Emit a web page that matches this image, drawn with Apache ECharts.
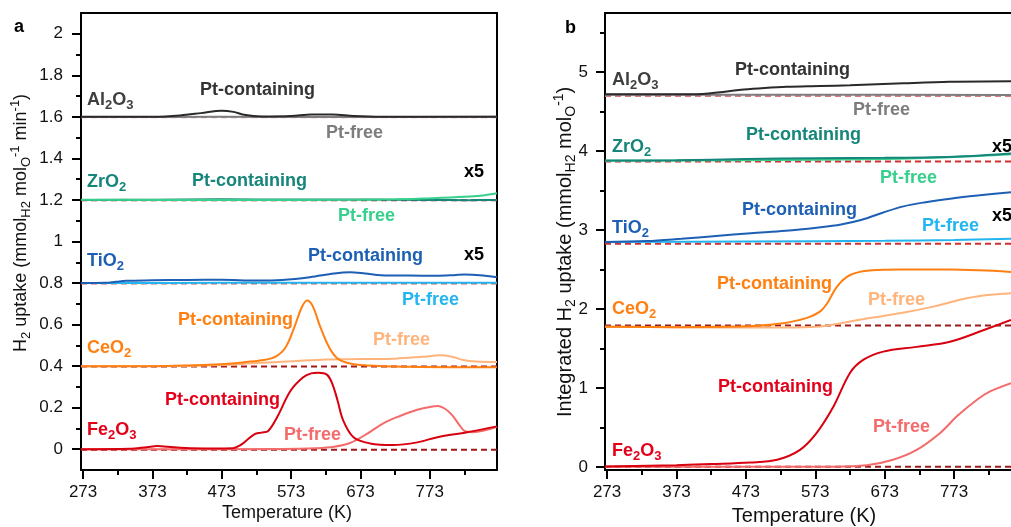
<!DOCTYPE html>
<html>
<head>
<meta charset="utf-8">
<script src="https://cdn.jsdelivr.net/npm/echarts@6/dist/echarts.min.js"></script>
<style>
html,body{margin:0;padding:0;background:#fff;}
#c{width:1011px;height:527px;}
</style>
</head>
<body>
<div id="c"></div>
<script>
// ---------- tick labels ----------
const xTicks = [273, 373, 473, 573, 673, 773];
const xMinorTicks = [323, 423, 523, 623, 723, 823];
const yTicksA = [0, 0.2, 0.4, 0.6, 0.8, 1, 1.2, 1.4, 1.6, 1.8, 2];
const yMinorA = [0.1, 0.3, 0.5, 0.7, 0.9, 1.1, 1.3, 1.5, 1.7, 1.9];
const yTicksB = [0, 1, 2, 3, 4, 5];
const yMinorB = [0.5, 1.5, 2.5, 3.5, 4.5, 5.5];

// ---------- panel a: H2 uptake ([T (K), value]) ----------
const aAlPt = [[270,1.6],[373,1.601],[413,1.607],[443,1.618],[473,1.63],[490,1.624],[505,1.61],[530,1.602],[573,1.604],[603,1.611],[633,1.611],[663,1.604],[703,1.6],[870,1.6]];
const aAlFree = [[270,1.599],[470,1.6],[670,1.599],[870,1.6]];
const aZrPt = [[270,1.2],[373,1.201],[473,1.203],[573,1.202],[673,1.202],[773,1.2],[830,1.199],[870,1.2]];
const aZrFree = [[270,1.201],[473,1.2],[673,1.201],[723,1.203],[773,1.208],[823,1.215],[850,1.222],[870,1.232]];
const aTiPt = [[270,0.8],[305,0.801],[320,0.806],[335,0.811],[373,0.813],[423,0.815],[473,0.816],[523,0.812],[560,0.815],[600,0.828],[635,0.846],[658,0.852],[680,0.846],[703,0.838],[743,0.836],[783,0.835],[808,0.838],[823,0.841],[845,0.838],[870,0.828]];
const aTiFree = [[270,0.8],[470,0.801],[670,0.801],[870,0.801]];
const aCePt = [[270,0.4],[373,0.4],[423,0.403],[463,0.408],[503,0.418],[530,0.428],[550,0.445],[565,0.49],[578,0.59],[588,0.68],[596,0.716],[604,0.69],[615,0.59],[628,0.49],[640,0.437],[655,0.415],[673,0.405],[720,0.398],[800,0.395],[870,0.395]];
const aCeFree = [[270,0.4],[423,0.401],[473,0.405],[523,0.415],[573,0.423],[623,0.432],[673,0.434],[723,0.436],[763,0.445],[788,0.452],[805,0.445],[821,0.43],[840,0.422],[870,0.42]];
const aFePt = [[270,0],[340,0.002],[365,0.01],[380,0.015],[395,0.012],[420,0.006],[460,0.004],[489,0.005],[500,0.02],[509,0.043],[520,0.072],[530,0.08],[540,0.088],[553,0.155],[572,0.28],[590,0.345],[602,0.365],[612,0.368],[625,0.358],[633,0.31],[640,0.235],[648,0.14],[663,0.058],[687,0.028],[720,0.02],[755,0.033],[784,0.058],[827,0.082],[870,0.11]];
const aFeFree = [[270,0],[560,0.001],[610,0.005],[635,0.012],[658,0.03],[683,0.075],[706,0.125],[730,0.16],[755,0.19],[775,0.205],[785,0.208],[795,0.195],[805,0.165],[815,0.12],[823,0.088],[835,0.082],[870,0.108]];
const aBaselines = [1.598, 1.198, 0.798, 0.398, -0.002];

// ---------- panel b: integrated H2 uptake ----------
const bAlPt = [[270,4.72],[373,4.72],[410,4.725],[440,4.75],[470,4.78],[500,4.8],[532,4.815],[580,4.825],[623,4.835],[700,4.86],[767,4.878],[855,4.885]];
const bAlFree = [[270,4.715],[570,4.714],[855,4.712]];
const bZrPt = [[270,3.88],[373,3.885],[473,3.9],[573,3.91],[673,3.915],[773,3.93],[820,3.95],[855,3.97]];
const bZrFree = [[270,3.878],[473,3.885],[673,3.9],[773,3.925],[855,3.96]];
const bTiPt = [[270,2.85],[330,2.86],[380,2.89],[430,2.925],[480,2.96],[530,2.99],[575,3.03],[610,3.07],[640,3.13],[670,3.22],[700,3.3],[730,3.35],[770,3.4],[810,3.44],[855,3.48]];
const bTiFree = [[270,2.85],[473,2.855],[673,2.865],[773,2.875],[855,2.89]];
const bCePt = [[270,1.775],[373,1.77],[473,1.78],[527,1.82],[550,1.86],[565,1.9],[580,1.97],[590,2.07],[604,2.28],[619,2.41],[637,2.47],[665,2.495],[695,2.5],[767,2.5],[810,2.49],[855,2.47]];
const bCeFree = [[270,1.775],[373,1.77],[473,1.765],[530,1.765],[575,1.775],[610,1.82],[647,1.88],[695,1.945],[743,2.03],[791,2.135],[825,2.18],[855,2.2]];
const bFePt = [[270,0.005],[373,0.02],[423,0.035],[479,0.055],[518,0.09],[551,0.215],[575,0.43],[599,0.76],[623,1.19],[642,1.355],[671,1.46],[719,1.52],[767,1.585],[815,1.73],[855,1.86]];
const bFeFree = [[270,0],[600,0.002],[647,0.02],[685,0.09],[719,0.215],[753,0.43],[777,0.64],[806,0.85],[825,0.955],[855,1.06]];
const bBaselines = [4.70, 3.868, 2.828, 1.79, 0];

// ---------- colours ----------
const C = {
  alPt:'#2a2a2a', alFree:'#7d7d7d', alTxt:'#3f3f3f',
  zrPt:'#16857a', zrFree:'#36cf8b',
  tiPt:'#1c5fb4', tiFree:'#22b5ef',
  cePt:'#ff7f11', ceFree:'#ffb47c',
  fePt:'#d8000f', feTxt:'#e5001a', feFree:'#f46b6b'
};
const baseColA = ['#e89a9a','#b01c1c','#d65a5a','#a01818','#a01818'];
const baseColB = ['#e07a7a','#d03030','#d03030','#9b1b1b','#9b1b1b'];

const chart = echarts.init(document.getElementById('c'), null, {renderer:'canvas'});
const FONT = '"Liberation Sans", Arial, Helvetica, sans-serif';

function line(xi, yi, data, color, z) {
  return {type:'line', xAxisIndex:xi, yAxisIndex:yi, data:data, showSymbol:false, symbol:'none',
    smooth:0.35, lineStyle:{color:color, width:2}, itemStyle:{color:color}, z:z||3, silent:true, animation:false};
}
function dashed(xi, yi, y, xmin, xmax, color) {
  return {type:'line', xAxisIndex:xi, yAxisIndex:yi, data:[[xmin,y],[xmax,y]], showSymbol:false, symbol:'none',
    lineStyle:{color:color, width:2, type:[6,4]}, z:2, silent:true, animation:false};
}

const tickLbl = {fontSize:17, color:'#111', fontFamily:FONT};
function mainX(gi, min, max) {
  return {type:'value', gridIndex:gi, min:min, max:max, position:'bottom',
    axisLine:{show:true, onZero:false, lineStyle:{color:'#000', width:2}},
    axisTick:{show:true, inside:false, length:9, lineStyle:{color:'#000', width:2}, customValues:xTicks},
    axisLabel:Object.assign({show:true, margin:14, customValues:xTicks}, tickLbl),
    splitLine:{show:false}};
}
function minorX(gi, min, max) {
  return {type:'value', gridIndex:gi, min:min, max:max, position:'bottom',
    axisLine:{show:false, onZero:false},
    axisTick:{show:true, inside:false, length:5, lineStyle:{color:'#000', width:2}, customValues:xMinorTicks},
    axisLabel:{show:false, customValues:xMinorTicks}, splitLine:{show:false}};
}
function topX(gi, min, max) {
  return {type:'value', gridIndex:gi, min:min, max:max, position:'top',
    axisLine:{show:true, onZero:false, lineStyle:{color:'#000', width:2}},
    axisTick:{show:false}, axisLabel:{show:false}, splitLine:{show:false}};
}
function mainY(gi, min, max, ticks, fmt, margin) {
  return {type:'value', gridIndex:gi, min:min, max:max, position:'left',
    axisLine:{show:true, onZero:false, lineStyle:{color:'#000', width:2}},
    axisTick:{show:true, inside:false, length:9, lineStyle:{color:'#000', width:2}, customValues:ticks},
    axisLabel:Object.assign({show:true, margin:margin, customValues:ticks, formatter:fmt}, tickLbl),
    splitLine:{show:false}};
}
function minorY(gi, min, max, ticks) {
  return {type:'value', gridIndex:gi, min:min, max:max, position:'left',
    axisLine:{show:false, onZero:false},
    axisTick:{show:true, inside:false, length:5, lineStyle:{color:'#000', width:2}, customValues:ticks},
    axisLabel:{show:false, customValues:ticks}, splitLine:{show:false}};
}
function rightY(gi, min, max) {
  return {type:'value', gridIndex:gi, min:min, max:max, position:'right',
    axisLine:{show:true, onZero:false, lineStyle:{color:'#000', width:2}},
    axisTick:{show:false}, axisLabel:{show:false}, splitLine:{show:false}};
}

const fmtA = v => String(+(+v).toFixed(1));
const fmtB = v => String(Math.round(v));

const XA = [270, 870], XB = [270, 855];
const YA = [-0.1, 2.1], YB = [-0.04, 5.75];

// rich styles for labels
function rich(size, color, weight) {
  const ss = Math.round(size*0.7);
  return {
    m:{fontSize:size, fontWeight:weight, fill:color, fontFamily:FONT, lineHeight:size+6, verticalAlign:'middle'},
    s:{fontSize:ss, fontWeight:weight, fill:color, fontFamily:FONT, lineHeight:ss, verticalAlign:'bottom'},
    p:{fontSize:ss, fontWeight:weight, fill:color, fontFamily:FONT, lineHeight:ss, verticalAlign:'top'}
  };
}
function lbl(x, y, text, color, opts) {
  opts = opts || {};
  const size = opts.size || 18, weight = opts.weight || 'bold';
  return {type:'text', x:x, y:y, rotation:opts.rot || 0, z:100, silent:true,
    style:{text:text, rich:rich(size, color, weight), fill:color, fontSize:size, fontWeight:weight, fontFamily:FONT,
      align:opts.align || 'left', verticalAlign:'middle'}};
}
const AL = '{m|Al}{s|2}{m|O}{s|3}', ZR = '{m|ZrO}{s|2}', TI = '{m|TiO}{s|2}', CE = '{m|CeO}{s|2}', FE = '{m|Fe}{s|2}{m|O}{s|3}';
const PC = '{m|Pt-containing}', PF = '{m|Pt-free}';

const graphics = [
  lbl(14, 27, '{m|a}', '#000', {size:18}),
  lbl(565, 28, '{m|b}', '#000', {size:18}),
  // axis titles (anchored at their start, reading upward)
  lbl(21, 352, '{m|H}{s|2}{m| uptake (mmol}{s|H2}{m| mol}{s|O}{p|-1}{m| min}{p|-1}{m|)}', '#111', {size:18, weight:'normal', rot:Math.PI/2}),
  lbl(565, 417, '{m|Integrated H}{s|2}{m| uptake (mmol}{s|H2}{m| mol}{s|O}{p|-1}{m|)}', '#111', {size:20, weight:'normal', rot:Math.PI/2}),
  lbl(287, 513, '{m|Temperature (K)}', '#111', {size:18, weight:'normal', align:'center'}),
  lbl(804, 516, '{m|Temperature (K)}', '#111', {size:20, weight:'normal', align:'center'}),
  // panel a labels
  lbl(87, 100, AL, C.alTxt), lbl(200, 90, PC, '#333'), lbl(326, 133, PF, C.alFree),
  lbl(87, 182, ZR, C.zrPt), lbl(192, 181, PC, C.zrPt), lbl(464, 172, '{m|x5}', '#000'), lbl(338, 216, PF, C.zrFree),
  lbl(87, 261, TI, C.tiPt), lbl(308, 256, PC, C.tiPt), lbl(464, 255, '{m|x5}', '#000'), lbl(402, 300, PF, C.tiFree),
  lbl(87, 348, CE, C.cePt), lbl(178, 320, PC, C.cePt), lbl(373, 340, PF, C.ceFree),
  lbl(87, 430, FE, C.feTxt), lbl(165, 400, PC, C.feTxt), lbl(284, 435, PF, C.feFree),
  // panel b labels
  lbl(612, 80, AL, C.alTxt), lbl(735, 70, PC, '#333'), lbl(853, 110, PF, C.alFree),
  lbl(612, 147, ZR, C.zrPt), lbl(746, 135, PC, C.zrPt), lbl(992, 147, '{m|x5}', '#000'), lbl(880, 178, PF, C.zrFree),
  lbl(612, 228, TI, C.tiPt), lbl(742, 210, PC, C.tiPt), lbl(992, 216, '{m|x5}', '#000'), lbl(922, 226, PF, C.tiFree),
  lbl(612, 309, CE, C.cePt), lbl(717, 284, PC, C.cePt), lbl(868, 300, PF, C.ceFree),
  lbl(612, 451, FE, C.feTxt), lbl(718, 387, PC, C.feTxt), lbl(873, 427, PF, C.feFree)
];

const series = [];
aBaselines.forEach((b, i) => series.push(dashed(0, 0, b, XA[0], XA[1], baseColA[i])));
bBaselines.forEach((b, i) => series.push(dashed(3, 3, b, XB[0], XB[1], baseColB[i])));
// panel a
series.push(line(0,0,aAlFree,C.alFree), line(0,0,aAlPt,C.alPt,4));
series.push(line(0,0,aZrPt,C.zrPt), line(0,0,aZrFree,C.zrFree,4));
series.push(line(0,0,aTiFree,C.tiFree), line(0,0,aTiPt,C.tiPt,4));
series.push(line(0,0,aCeFree,C.ceFree), line(0,0,aCePt,C.cePt,4));
series.push(line(0,0,aFeFree,C.feFree), line(0,0,aFePt,C.fePt,4));
// panel b
series.push(line(3,3,bAlFree,C.alFree), line(3,3,bAlPt,C.alPt,4));
series.push(line(3,3,bZrFree,C.zrFree), line(3,3,bZrPt,C.zrPt,4));
series.push(line(3,3,bTiFree,C.tiFree), line(3,3,bTiPt,C.tiPt,4));
series.push(line(3,3,bCeFree,C.ceFree), line(3,3,bCePt,C.cePt,4));
series.push(line(3,3,bFeFree,C.feFree), line(3,3,bFePt,C.fePt,4));

chart.setOption({
  animation:false,
  backgroundColor:'#fff',
  textStyle:{fontFamily:FONT},
  grid:[
    {left:81, top:13, width:416, height:457, containLabel:false},
    {left:605, top:13, width:406, height:457, containLabel:false}
  ],
  xAxis:[mainX(0,XA[0],XA[1]), minorX(0,XA[0],XA[1]), topX(0,XA[0],XA[1]),
         mainX(1,XB[0],XB[1]), minorX(1,XB[0],XB[1]), topX(1,XB[0],XB[1])],
  yAxis:[mainY(0,YA[0],YA[1],yTicksA,fmtA,18), minorY(0,YA[0],YA[1],yMinorA), rightY(0,YA[0],YA[1]),
         mainY(1,YB[0],YB[1],yTicksB,fmtB,17), minorY(1,YB[0],YB[1],yMinorB)],
  graphic:graphics,
  series:series
});
</script>
</body>
</html>
